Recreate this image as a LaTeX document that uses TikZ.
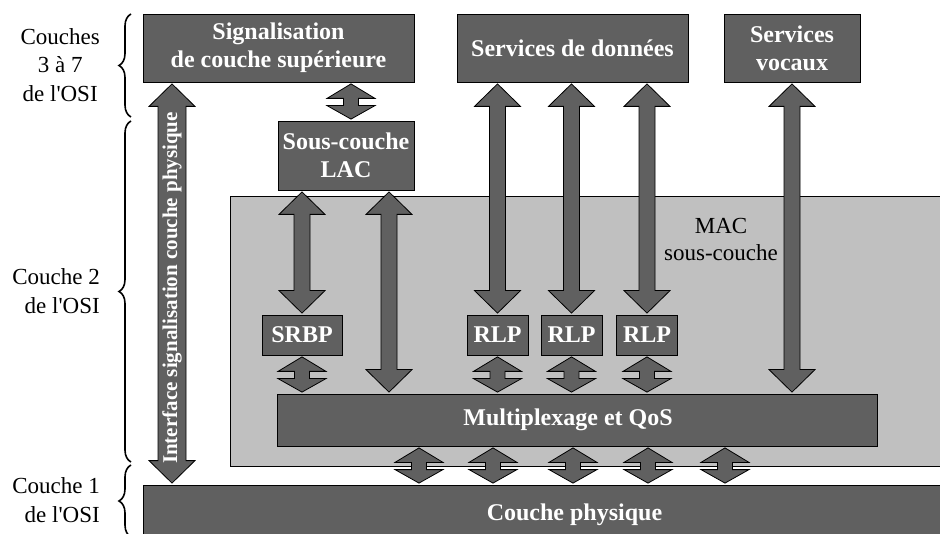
\documentclass[tikz,border=0pt]{standalone}
\usepackage{fontspec}
\setmainfont{Liberation Serif}
\usetikzlibrary{calc, decorations.pathreplacing}

\definecolor{boxgray}{RGB}{96,96,96}
\definecolor{macgray}{RGB}{192,192,192}

% wide double arrow between two layers: #1 half shaft, #2 top point, #3 bottom point
\newcommand{\fatarrow}[3][8pt]{%
  \draw[arrowbody] let \p1=#2, \p2=#3 in
    (\x1,\y1-1.5pt) -- (\x1+23pt,\y1-24pt) -- (\x1+#1,\y1-24pt)
    -- (\x2+#1,\y2+24pt) -- (\x2+23pt,\y2+24pt) -- (\x2,\y2+1.5pt)
    -- (\x2-23pt,\y2+24pt) -- (\x2-#1,\y2+24pt)
    -- (\x1-#1,\y1-24pt) -- (\x1-23pt,\y1-24pt) -- cycle}
% short notched link between stacked boxes
\newcommand{\linkarrow}[2]{%
  \draw[arrowbody] let \p1=#1, \p2=#2 in
    (\x1,\y1-1.5pt) -- (\x1+24pt,\y1-16pt) -- (\x1+7.5pt,\y1-16pt)
    -- (\x2+7.5pt,\y2+15pt) -- (\x2+24pt,\y2+15pt) -- (\x2,\y2+1.5pt)
    -- (\x2-24pt,\y2+15pt) -- (\x2-7.5pt,\y2+15pt)
    -- (\x1-7.5pt,\y1-16pt) -- (\x1-24pt,\y1-16pt) -- cycle}
\newcommand{\osi}{de l\textquotesingle OSI}

\begin{document}
\begin{tikzpicture}[x=1pt, y=-1pt,
    box/.style={draw=black, line width=0.8pt, fill=boxgray, text=white, inner sep=0pt,
      align=center, font=\fontsize{24}{28}\selectfont\bfseries},
    arrowbody/.style={draw=black, line width=0.8pt, fill=boxgray},
    layerlbl/.style={font=\fontsize{23}{28.5}\selectfont, inner sep=0pt, anchor=east},
    layerbrace/.style={decorate, decoration={brace, amplitude=12pt}, line width=1.6pt}]
  \useasboundingbox (0,0) rectangle (940,534);
  \clip (0,0) rectangle (940,534);

  % MAC sub-layer background
  \draw[fill=macgray, line width=0.8pt] (230,196) rectangle (960,466);
  \node[align=center, font=\fontsize{23}{27}\selectfont] (maclbl) at (721,240) {MAC\\sous-couche};

  % upper layers
  \node[box, minimum width=271pt, minimum height=68pt] (sig) at (278.5,48) {Signalisation\\de couche supérieure};
  \node[box, minimum width=231pt, minimum height=68pt] (data) at (572.5,48) {Services de données};
  \node[box, minimum width=136pt, minimum height=68pt] (voice) at (792,48) {Services\\vocaux};
  \node[box, minimum width=136pt, minimum height=69pt] (lac) at (346,155.5) {Sous-couche\\LAC};

  % MAC blocks
  \node[box, minimum width=80pt, minimum height=40pt] (srbp) at (302,335) {SRBP};
  \node[box, minimum width=61pt, minimum height=40pt] (rlp1) at (497.5,335) {RLP};
  \node[box, minimum width=61pt, minimum height=40pt] (rlp2) at (571.5,335) {RLP};
  \node[box, minimum width=61pt, minimum height=40pt] (rlp3) at (647,335) {RLP};
  \node[box, minimum width=600pt, minimum height=52pt] (mux) at (577,420) {Multiplexage et QoS\hspace{18pt}};

  % physical layer
  \node[box, minimum width=863pt, minimum height=60pt] (phys) at (574.5,515) {Couche physique};

  % OSI layer labels
  \node[layerlbl, align=center] (osi37) at (100,65) {Couches\\3 à 7\\\osi};
  \node[layerlbl, align=right] (osi2) at (100,291) {Couche 2\\\osi};
  \node[layerlbl, align=right] (osi1) at (100,500) {Couche 1\\\osi};
  \draw[layerbrace] (131,117) -- (131,14);
  \draw[layerbrace] (131,462) -- (131,121);
  \draw[layerbrace] (131,537) -- (131,465);

  % physical signalling interface
  \coordinate (ifx) at (172,0);
  \fatarrow[14pt]{(ifx |- sig.south)}{(ifx |- phys.north)};
  \node[rotate=90, text=white, font=\fontsize{21}{24}\selectfont\bfseries] (iftext) at (172,288) {Interface signalisation couche physique};

  % LAC and service arrows
  \fatarrow{(srbp.north |- lac.south)}{(srbp.north)};
  \coordinate (lacr) at ([xshift=43pt]lac.south);
  \fatarrow{(lacr)}{(lacr |- mux.north)};
  \foreach \r in {rlp1,rlp2,rlp3} \fatarrow{(\r.north |- data.south)}{(\r.north)};
  \fatarrow{(voice.south)}{(voice.south |- mux.north)};

  % short links
  \coordinate (siglac) at ([xshift=5pt]lac.north);
  \linkarrow{(siglac |- sig.south)}{(siglac)};
  \foreach \b in {srbp,rlp1,rlp2,rlp3} \linkarrow{(\b.south)}{(\b.south |- mux.north)};
  \foreach \lx in {419,493,573,648,725} {
    \coordinate (mp) at (\lx,0);
    \linkarrow{(mp |- mux.south)}{(mp |- phys.north)};
  }
\end{tikzpicture}
\end{document}
